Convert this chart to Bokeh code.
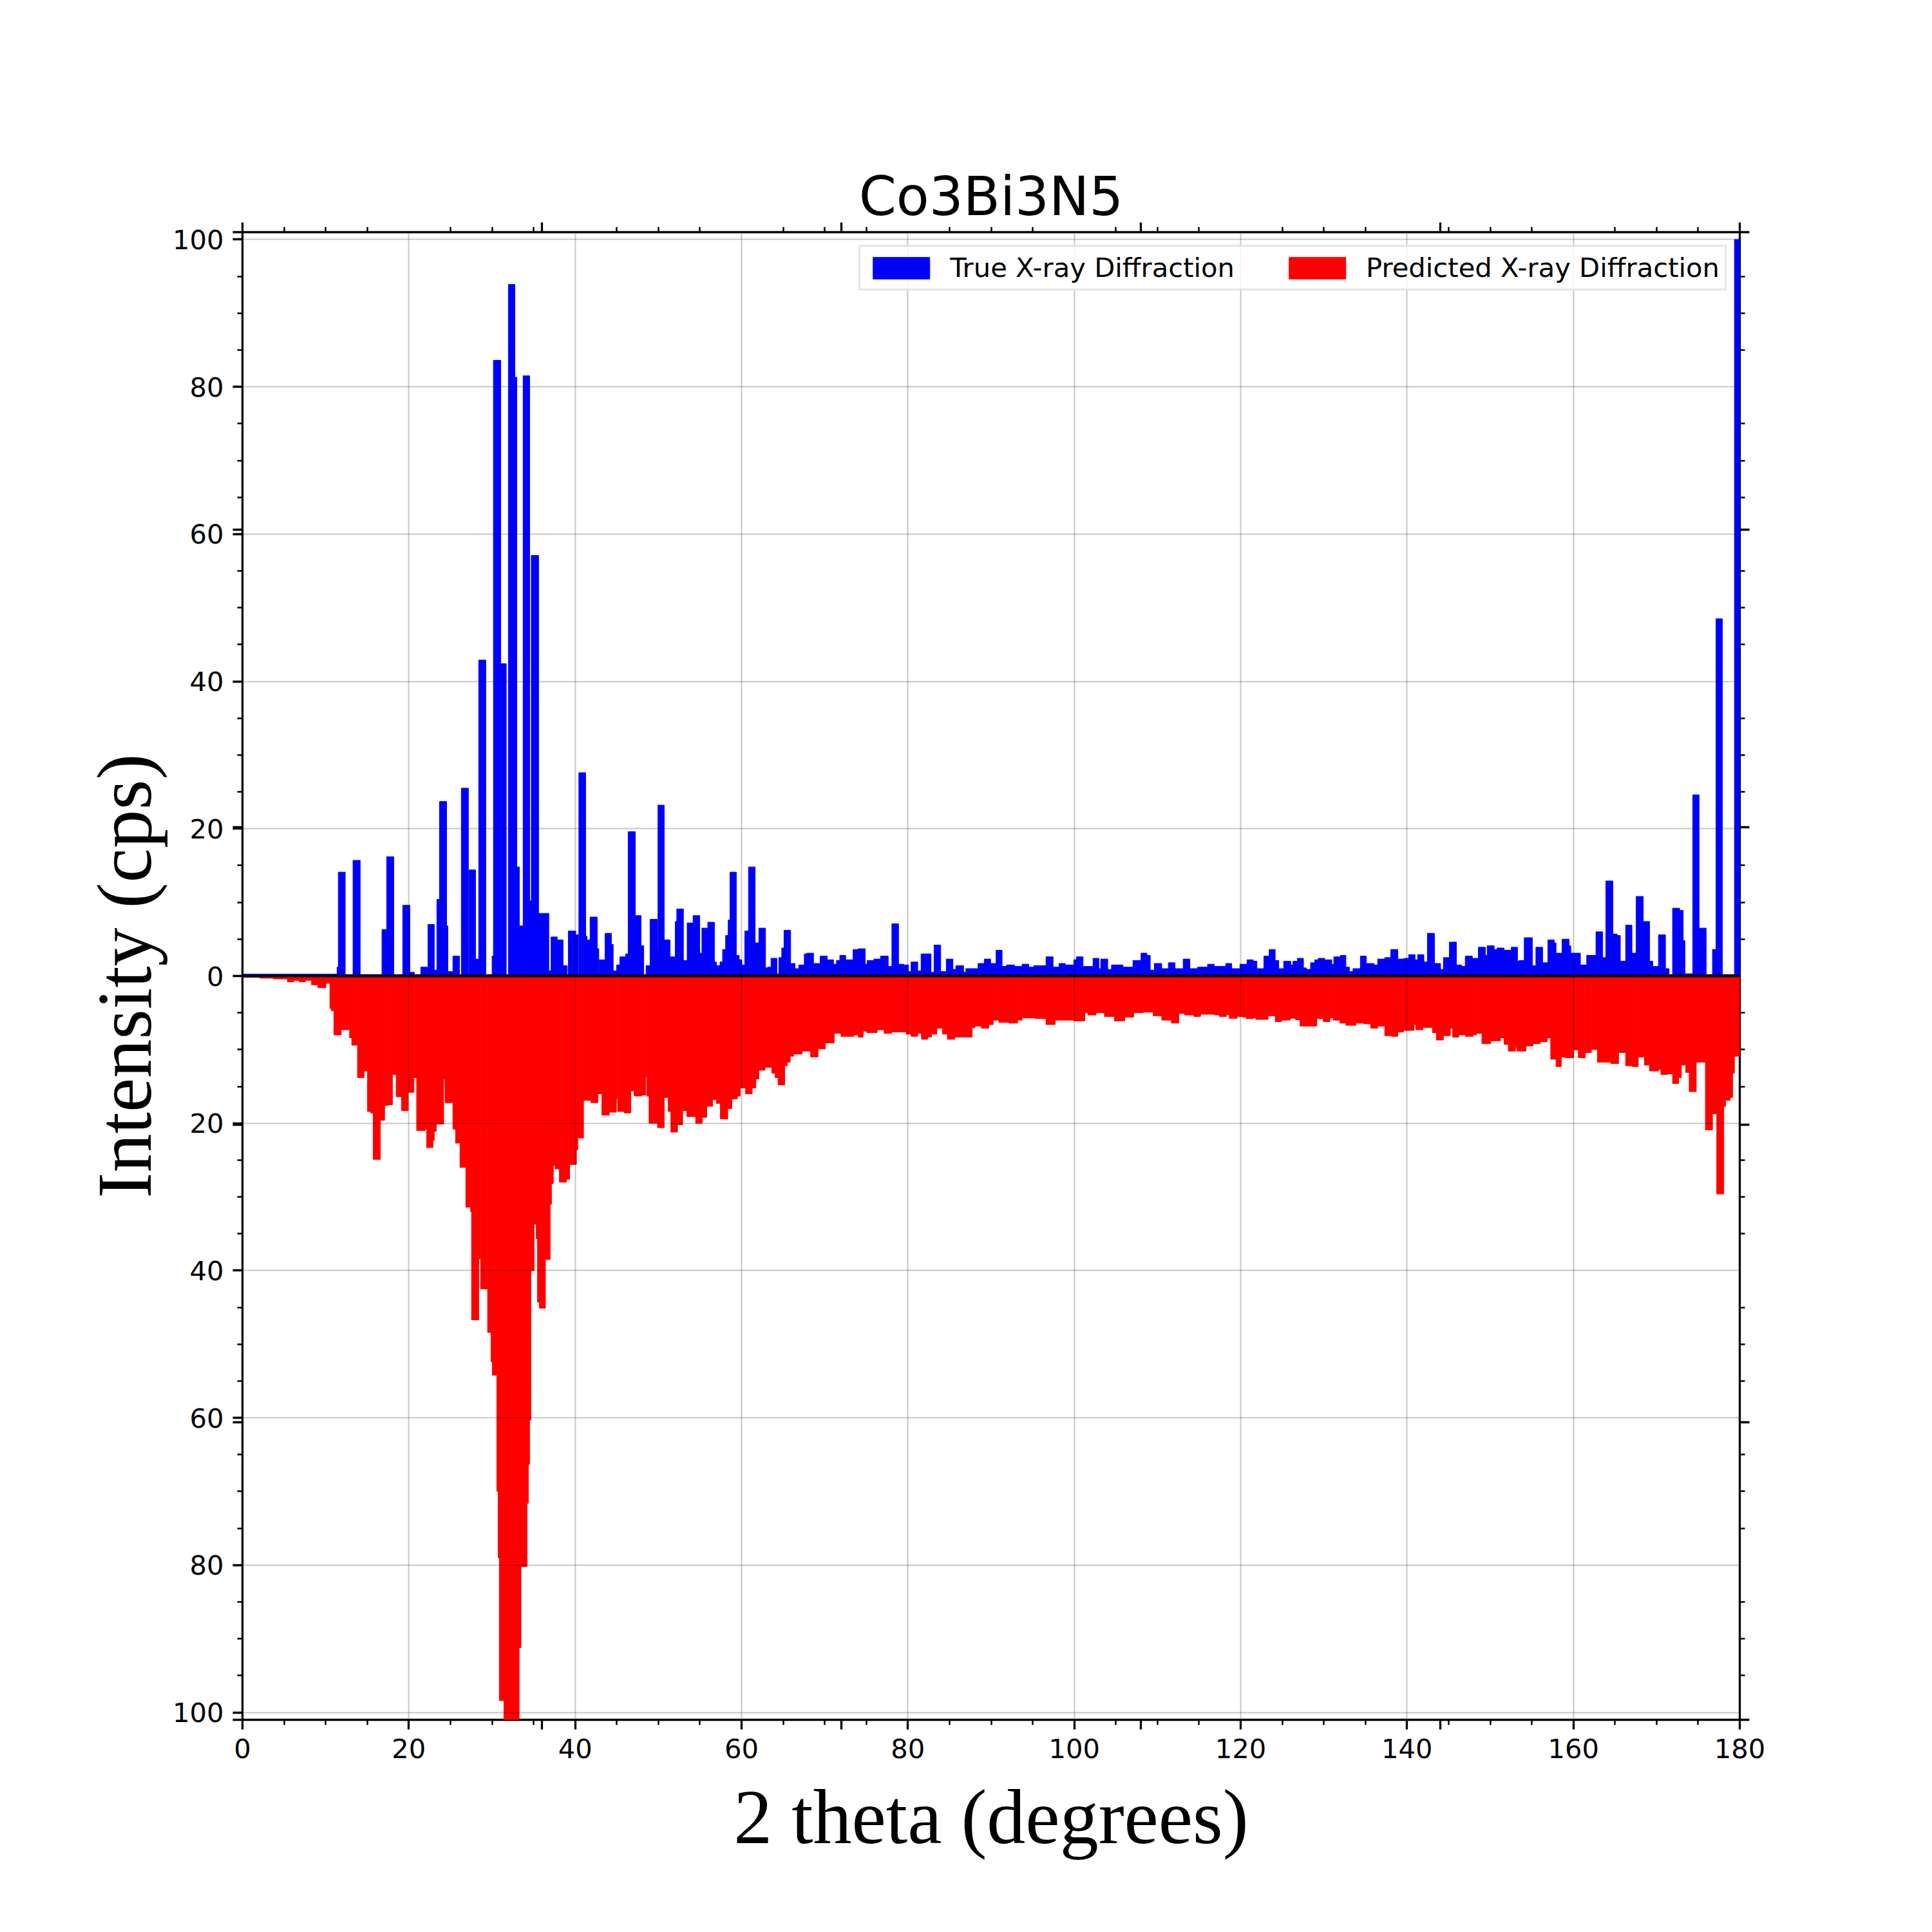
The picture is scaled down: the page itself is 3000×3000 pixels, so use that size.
from bokeh.plotting import figure
from bokeh.models import (Range1d, LinearAxis, FixedTicker, CustomJSTickFormatter, Grid,
                          Span, Legend, LegendItem, ColumnDataSource)
from bokeh.embed import file_html
from bokeh.resources import INLINE

# ---------------- data (2 theta in degrees, intensity in cps) ----------------
true_start = [
    0, 11.37, 11.52, 12.35, 13.29, 14.15, 16.77, 17.34, 18.19, 19.27,
    20.12, 20.66, 21.44, 22.24, 22.30, 23.06, 23.37, 23.69, 24.54, 24.70,
    25.30, 26.09, 26.31, 27.16, 27.26, 28.02, 28.40, 29.25, 30.01, 30.17,
    31.05, 31.71, 31.97, 32.75, 32.98, 33.29, 33.74, 34.53, 34.72, 35.60,
    36.83, 37.09, 37.84, 38.54, 39.04, 39.17, 40.06, 40.37, 40.44, 41.26,
    41.41, 41.79, 42.65, 42.84, 42.90, 43.59, 44.35, 44.57, 44.98, 45.36,
    46.06, 46.37, 47.23, 47.92, 48.24, 48.52, 49.00, 49.86, 49.95, 50.70,
    51.41, 51.95, 52.03, 52.21, 53.01, 53.46, 54.17, 54.97, 55.23, 55.94,
    56.74, 56.97, 57.41, 57.72, 58.08, 58.39, 58.61, 59.37, 59.72, 60.03,
    60.39, 60.83, 61.63, 62.08, 62.88, 63.14, 63.54, 64.25, 64.48, 64.83,
    65.10, 65.90, 66.43, 66.88, 67.54, 67.85, 68.65, 69.45, 70.30, 71.05,
    71.41, 71.81, 72.52, 73.41, 74.03, 74.87, 75.10, 75.90, 76.70, 77.63,
    78.07, 78.87, 79.50, 80.07, 80.38, 81.18, 81.58, 82.78, 83.14, 83.94,
    84.61, 85.41, 85.76, 86.69, 86.96, 88.43, 89.18, 89.94, 90.60, 91.32,
    91.85, 92.83, 93.72, 94.52, 95.14, 96.60, 97.45, 98.16, 98.91, 99.94,
    100.25, 101.05, 102.25, 102.96, 103.18, 104.02, 104.47, 105.85, 107.05, 108.02,
    108.73, 109.13, 109.62, 110.51, 111.31, 112.11, 113.09, 113.89, 114.82, 116.02,
    116.82, 118.21, 118.93, 119.91, 120.76, 121.52, 121.95, 122.79, 123.43, 124.15,
    124.58, 125.17, 126.02, 126.28, 126.83, 127.55, 127.89, 128.40, 128.91, 129.33,
    130.10, 130.95, 131.20, 132.01, 132.65, 133.07, 133.50, 134.39, 135.11, 136.04,
    136.47, 137.32, 138.04, 138.89, 139.65, 140.20, 140.97, 141.27, 142.03, 142.45,
    143.30, 144.03, 144.37, 145.09, 145.94, 146.57, 147.00, 147.85, 148.57, 149.42,
    149.63, 150.48, 150.82, 151.67, 152.52, 153.28, 153.45, 154.09, 155.07, 155.49,
    156.30, 156.93, 157.70, 157.91, 158.63, 159.48, 159.69, 160.84, 161.60, 162.71,
    163.52, 163.90, 164.75, 165.26, 165.64, 166.28, 167.04, 167.55, 168.40, 169.16,
    169.55, 170.23, 171.07, 171.50, 171.92, 172.77, 173.20, 173.41, 174.35, 175.11,
    175.96, 176.72, 177.15, 177.91, 179.36,
]
true_int = [
    0.25, 1.2, 14.1, 0.2, 15.7, 0.2, 6.3, 16.2, 0.2, 9.6,
    0.5, 0.2, 1.2, 0.2, 7.0, 0.8, 10.4, 23.7, 6.8, 0.6,
    2.7, 0.2, 25.5, 0.2, 14.4, 2.3, 42.9, 0.2, 2.7, 83.6,
    42.4, 0.2, 93.9, 81.3, 14.8, 6.8, 81.5, 10.2, 57.1, 8.5,
    0.7, 5.3, 4.9, 1.4, 0.2, 6.1, 5.6, 0.2, 27.6, 5.4,
    4.9, 8.0, 3.7, 0.2, 2.2, 5.8, 4.3, 0.7, 1.5, 2.6,
    3.0, 19.6, 8.2, 4.1, 0.2, 1.4, 7.7, 3.6, 23.2, 4.9,
    2.6, 2.3, 7.4, 9.1, 2.1, 7.2, 8.2, 3.1, 6.5, 7.3,
    1.9, 1.4, 1.9, 3.6, 5.5, 7.6, 14.1, 2.8, 2.2, 1.5,
    6.1, 14.8, 4.5, 6.5, 1.1, 1.2, 2.4, 0.3, 2.5, 3.8,
    6.2, 1.7, 1.0, 1.5, 3.0, 3.1, 1.7, 2.7, 2.2, 1.6,
    2.1, 2.8, 2.2, 3.6, 3.7, 1.6, 2.1, 2.3, 2.7, 1.3,
    7.1, 1.6, 1.5, 0.6, 1.9, 0.7, 3.0, 0.5, 4.2, 0.6,
    2.3, 0.9, 1.4, 0.5, 1.0, 1.7, 2.3, 1.7, 3.5, 1.3,
    1.5, 1.3, 1.6, 1.2, 1.4, 2.6, 1.2, 1.7, 1.5, 2.2,
    2.6, 1.3, 2.4, 1.0, 2.3, 0.9, 1.5, 1.2, 2.1, 3.1,
    2.8, 0.8, 1.7, 1.0, 1.8, 1.0, 2.3, 1.0, 1.2, 1.6,
    1.3, 1.7, 1.0, 1.6, 2.2, 2.0, 1.0, 2.7, 3.6, 2.1,
    1.0, 2.0, 1.5, 2.0, 2.4, 1.1, 0.9, 1.8, 2.2, 2.4,
    2.2, 1.6, 2.6, 2.8, 1.2, 0.6, 1.0, 2.7, 1.7, 1.5,
    2.3, 2.5, 3.6, 2.3, 2.4, 2.9, 2.2, 2.9, 1.9, 5.8,
    1.7, 0.9, 2.5, 4.6, 1.5, 1.3, 2.7, 2.4, 3.9, 2.8,
    4.1, 3.6, 3.8, 3.5, 3.9, 2.0, 2.1, 5.2, 1.4, 3.9,
    1.8, 4.9, 4.5, 3.1, 5.0, 4.1, 3.1, 1.5, 2.8, 6.0,
    2.5, 12.9, 5.7, 5.5, 2.0, 6.9, 3.1, 10.8, 7.4, 2.0,
    1.3, 5.6, 1.0, 0.2, 9.2, 8.9, 4.8, 0.3, 24.6, 6.5,
    0.2, 3.6, 48.5, 0.2, 100.0,
]

pred_start = [
    0, 2.08, 3.72, 5.39, 6.18, 6.82, 7.57, 8.30, 9.06, 10.04,
    10.51, 10.67, 10.99, 11.87, 12.88, 13.14, 13.83, 14.62, 15.03, 15.41,
    15.72, 16.58, 17.09, 17.53, 18.03, 18.48, 19.11, 19.93, 20.62, 20.94,
    21.98, 22.14, 22.90, 23.06, 23.31, 24.19, 24.35, 25.30, 25.62, 26.15,
    26.85, 27.42, 27.54, 28.40, 28.62, 29.47, 29.88, 30.04, 30.58, 30.74,
    30.89, 31.43, 33.26, 33.48, 34.21, 34.37, 34.52, 34.68, 35.06, 35.32,
    35.47, 35.70, 36.42, 36.99, 37.15, 37.37, 37.59, 38.10, 38.95, 39.33,
    40.15, 40.31, 41.00, 41.89, 42.74, 43.21, 44.10, 44.95, 45.11, 45.90,
    46.69, 47.07, 47.95, 48.49, 48.62, 48.88, 49.90, 50.70, 51.19, 51.50,
    52.30, 52.92, 53.41, 54.48, 55.28, 55.81, 56.52, 56.97, 57.45, 58.34,
    58.83, 59.50, 59.85, 60.48, 61.28, 61.72, 62.08, 62.83, 63.63, 64.03,
    64.39, 65.19, 65.50, 65.85, 66.25, 67.28, 68.30, 69.19, 70.07, 71.14,
    71.94, 73.50, 74.03, 74.61, 75.05, 76.30, 77.14, 78.03, 79.81, 80.38,
    81.18, 81.63, 82.38, 82.83, 83.49, 84.16, 84.74, 85.63, 87.72, 88.07,
    88.83, 89.72, 90.25, 90.92, 92.16, 93.18, 93.72, 95.27, 96.60, 97.71,
    99.94, 101.27, 101.63, 102.60, 103.62, 104.82, 106.07, 107.14, 108.29, 109.49,
    110.51, 111.67, 112.56, 113.27, 114.38, 115.18, 116.51, 116.85, 117.44, 118.29,
    118.63, 119.57, 120.25, 120.67, 121.52, 121.82, 123.30, 124.15, 124.92, 125.94,
    126.57, 127.13, 129.16, 129.93, 130.73, 131.16, 131.92, 132.65, 133.84, 134.77,
    135.62, 136.47, 137.32, 138.17, 138.89, 139.57, 140.84, 141.05, 141.90, 143.05,
    143.52, 144.37, 145.21, 145.47, 146.23, 147.00, 147.93, 148.36, 149.00, 150.06,
    151.24, 151.67, 152.18, 153.03, 153.20, 154.30, 155.15, 156.00, 156.85, 157.27,
    157.91, 158.55, 158.97, 160.03, 160.59, 161.44, 162.16, 162.88, 164.49, 165.43,
    166.28, 167.04, 167.80, 168.53, 169.16, 170.23, 170.52, 171.29, 171.92, 172.65,
    172.98, 173.50, 173.92, 174.77, 175.87, 176.72, 177.23, 178.08, 178.29, 178.85,
    179.14, 179.36,
]
pred_int = [
    0.2, 0.3, 0.4, 0.8, 0.6, 0.8, 0.6, 1.2, 1.6, 1.0,
    4.4, 4.7, 8.0, 7.3, 8.4, 9.4, 13.8, 12.9, 18.4, 18.6,
    24.9, 19.6, 17.6, 17.5, 13.4, 16.4, 18.3, 15.8, 13.8, 21.0,
    20.8, 23.3, 22.3, 21.1, 20.1, 14.0, 17.2, 20.8, 22.7, 26.0,
    31.4, 32.0, 46.7, 38.4, 42.5, 48.4, 52.4, 54.2, 70.0, 79.0,
    98.4, 101.0, 91.2, 80.2, 71.6, 66.3, 60.3, 40.0, 33.7, 35.7,
    44.3, 45.1, 38.5, 31.0, 28.2, 25.7, 26.2, 28.0, 27.6, 25.6,
    23.6, 22.0, 16.9, 17.2, 16.0, 18.9, 18.5, 16.6, 18.4, 18.6,
    15.6, 16.3, 16.2, 13.7, 16.3, 20.0, 20.6, 16.5, 18.4, 21.2,
    20.2, 18.3, 19.1, 20.0, 19.2, 17.7, 16.8, 17.3, 19.4, 18.0,
    16.7, 16.3, 15.2, 16.0, 15.2, 14.0, 12.8, 12.4, 13.2, 13.8,
    14.8, 12.2, 11.7, 10.9, 10.6, 10.2, 11.0, 9.9, 9.1, 7.8,
    8.2, 8.0, 8.3, 7.5, 7.7, 7.3, 7.8, 7.6, 7.9, 8.2,
    7.8, 8.6, 8.3, 7.9, 7.1, 7.9, 8.6, 8.3, 7.0, 6.8,
    7.1, 6.6, 6.0, 6.3, 6.4, 6.0, 5.7, 5.8, 6.6, 6.0,
    6.1, 5.0, 5.3, 5.0, 5.5, 6.1, 5.6, 5.0, 4.9, 5.4,
    6.0, 6.4, 5.1, 5.3, 5.5, 5.2, 5.2, 5.3, 5.5, 5.25,
    5.75, 5.5, 5.6, 5.8, 5.7, 5.9, 5.4, 6.2, 6.0, 5.75,
    5.95, 6.8, 5.8, 6.2, 5.7, 6.0, 6.4, 6.7, 6.4, 6.5,
    7.1, 6.8, 8.1, 8.2, 7.6, 7.4, 6.6, 7.3, 7.0, 7.7,
    8.7, 8.1, 7.1, 8.3, 8.0, 8.2, 8.0, 7.8, 9.2, 8.8,
    8.4, 9.3, 10.2, 9.7, 10.2, 9.5, 9.2, 8.95, 8.4, 11.3,
    12.3, 11.0, 11.1, 10.05, 11.1, 10.4, 10.0, 11.7, 11.9, 10.4,
    12.2, 12.3, 11.0, 12.1, 12.9, 12.7, 13.4, 13.3, 14.6, 13.8,
    12.1, 13.1, 15.7, 11.7, 20.9, 18.7, 29.6, 17.7, 16.9, 16.5,
    13.2, 10.9,
]

title_text = "Co3Bi3N5"
x_label = "2 theta (degrees)"
y_label = "Intensity (cps)"
legend_labels = ["True X-ray Diffraction", "Predicted X-ray Diffraction"]

X0, X1 = 0, 180
Y0, Y1 = -101, 101

x_major = list(range(0, 181, 20))
x_minor = [v for v in range(5, 180, 5) if v % 20]
x_twin = [X0 + k * (X1 - X0) / 5 for k in range(6)]
y_major = list(range(-100, 101, 20))
y_minor = [v for v in range(-95, 100, 5) if v % 20]
y_twin = [Y0 + k * (Y1 - Y0) / 5 for k in range(6)]

# ---------------- figure ----------------
p = figure(x_range=Range1d(X0, X1), y_range=Range1d(Y0, Y1),
           x_axis_type=None, y_axis_type=None,
           frame_width=2325, frame_height=2310,
           min_border_left=376, min_border_right=283,
           min_border_top=360, min_border_bottom=314,
           output_backend="svg", toolbar_location=None,
           background_fill_color="white", border_fill_color="white")
p.outline_line_color = "black"
p.outline_line_width = 3.3
p.title.text = title_text
p.title.align = "center"
p.title.text_font = "DejaVu Sans"
p.title.text_font_size = "83.3px"
p.title.text_font_style = "normal"
p.title.text_color = "black"
p.title.standoff = -16

true_src = ColumnDataSource(dict(left=true_start, right=true_start[1:] + [X1],
                                 top=true_int, bottom=[0] * len(true_int)))
pred_src = ColumnDataSource(dict(left=pred_start, right=pred_start[1:] + [X1],
                                 top=[0] * len(pred_int), bottom=[-v for v in pred_int]))
rb = p.quad(left="left", right="right", top="top", bottom="bottom", source=true_src,
            fill_color="#0000ff", line_color="#0000ff", line_width=1)
rr = p.quad(left="left", right="right", top="top", bottom="bottom", source=pred_src,
            fill_color="#ff0000", line_color="#ff0000", line_width=1)

lbl20 = "const r = Math.round(tick/20)*20; return Math.abs(tick - r) < 1e-6 ? String(Math.abs(r)) : '';"
blank = "return '';"

def style(ax, labels=True, label_standoff=22):
    ax.axis_line_color = None
    ax.major_tick_in = 0
    ax.major_tick_out = 15
    ax.minor_tick_in = 0
    ax.minor_tick_out = 8
    ax.major_tick_line_width = 3.3
    ax.minor_tick_line_width = 2.5
    ax.major_tick_line_color = "black"
    ax.minor_tick_line_color = "black"
    ax.major_label_text_font = "DejaVu Sans"
    ax.major_label_text_font_size = "41.7px" if labels else "0px"
    ax.major_label_text_color = "black"
    ax.major_label_standoff = 14 if labels else 0
    ax.axis_label_text_font = "Liberation Serif"
    ax.axis_label_text_font_size = "120px"
    ax.axis_label_text_font_style = "normal"
    ax.axis_label_text_color = "black"
    ax.axis_label_standoff = label_standoff

xb = LinearAxis(ticker=FixedTicker(ticks=sorted(set(x_major + x_twin)), minor_ticks=x_minor),
                formatter=CustomJSTickFormatter(code=lbl20), axis_label=x_label)
style(xb)
p.add_layout(xb, "below")

yl = LinearAxis(ticker=FixedTicker(ticks=sorted(y_major + y_twin), minor_ticks=y_minor),
                formatter=CustomJSTickFormatter(code=lbl20), axis_label=y_label)
style(yl, label_standoff=5)
p.add_layout(yl, "left")

xt = LinearAxis(ticker=FixedTicker(ticks=x_twin, minor_ticks=x_minor),
                formatter=CustomJSTickFormatter(code=blank))
style(xt, labels=False)
p.add_layout(xt, "above")

yr = LinearAxis(ticker=FixedTicker(ticks=y_twin, minor_ticks=y_minor),
                formatter=CustomJSTickFormatter(code=blank))
style(yr, labels=False)
p.add_layout(yr, "right")

for dim, ticks in ((0, x_major), (1, y_major)):
    p.add_layout(Grid(dimension=dim, ticker=FixedTicker(ticks=ticks),
                      grid_line_color="black", grid_line_alpha=0.22,
                      grid_line_width=2, level="annotation"))

p.add_layout(Span(location=0, dimension="width", line_color="black", line_width=4))

legend = Legend(items=[LegendItem(label=legend_labels[0], renderers=[rb]),
                       LegendItem(label=legend_labels[1], renderers=[rr])],
                location="top_right", orientation="horizontal",
                margin=20, padding=8, spacing=73, label_standoff=21,
                glyph_width=110, glyph_height=42,
                label_text_font="DejaVu Sans", label_text_font_size="41.7px",
                label_text_color="black",
                border_line_color="#cccccc", border_line_width=3,
                background_fill_color="white", background_fill_alpha=0.8)
p.add_layout(legend)

open("out.html", "w").write(file_html(p, INLINE))
